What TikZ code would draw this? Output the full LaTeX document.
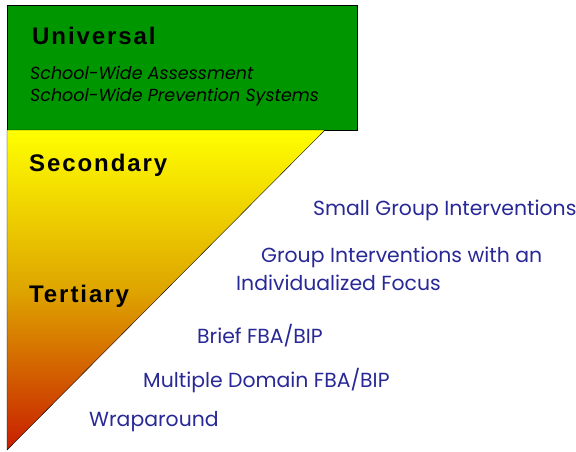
\documentclass[tikz,border=0pt]{standalone}
\usepackage{fontspec}
\setmainfont{Poppins}
\newfontfamily\headfont[LetterSpace=8]{Liberation Sans}
\definecolor{tiergreen}{RGB}{0,150,0}
\definecolor{tieryellow}{RGB}{255,255,0}
\definecolor{tierorange}{RGB}{222,165,0}
\definecolor{tierred}{RGB}{200,30,0}
\definecolor{itemblue}{RGB}{40,40,150}
\begin{document}
\begin{tikzpicture}[x=1pt, y=-1pt,
    tier/.style={anchor=west, inner sep=0pt, font=\headfont\bfseries\fontsize{24}{26}\selectfont},
    sub/.style={anchor=west, inner sep=0pt, font=\itshape\fontsize{17.5}{19}\selectfont},
    item/.style={anchor=west, inner sep=0pt, text=itemblue, font=\fontsize{20.4}{22}\selectfont}]
        \useasboundingbox (0,0) rectangle (576,452);

        % universal box
        \draw[fill=tiergreen] (7,5) rectangle (357,130);
        % secondary / tertiary triangle
        \shade[top color=tieryellow, bottom color=tierred, middle color=tierorange] (7,130) -- (325,130) -- (7,450) -- cycle;
        \draw (7,130) -- (325,130) -- (7,450) -- cycle;

        \draw (32,36) node[tier] (univ) {Universal};
        \draw (30,73) node[sub] (assess) {School-Wide Assessment};
        \draw (30,97) node[sub] (prevent) {School-Wide Prevention Systems};
        \draw (29,165) node[tier] (sec) {Secondary};
        \draw (29,296) node[tier] (tert) {Tertiary};

        \draw (313,210) node[item] (small) {Small Group Interventions};
        \draw (261,257) node[item] (group) {Group Interventions with an};
        \draw (236,283) node[item] (indiv) {Individualized Focus};
        \draw (197,336) node[item] (brief) {Brief FBA/BIP};
        \draw (143,381) node[item] (multi) {Multiple Domain FBA/BIP};
        \draw (89,422) node[item] (wrap) {Wraparound};
\end{tikzpicture}
\end{document}
